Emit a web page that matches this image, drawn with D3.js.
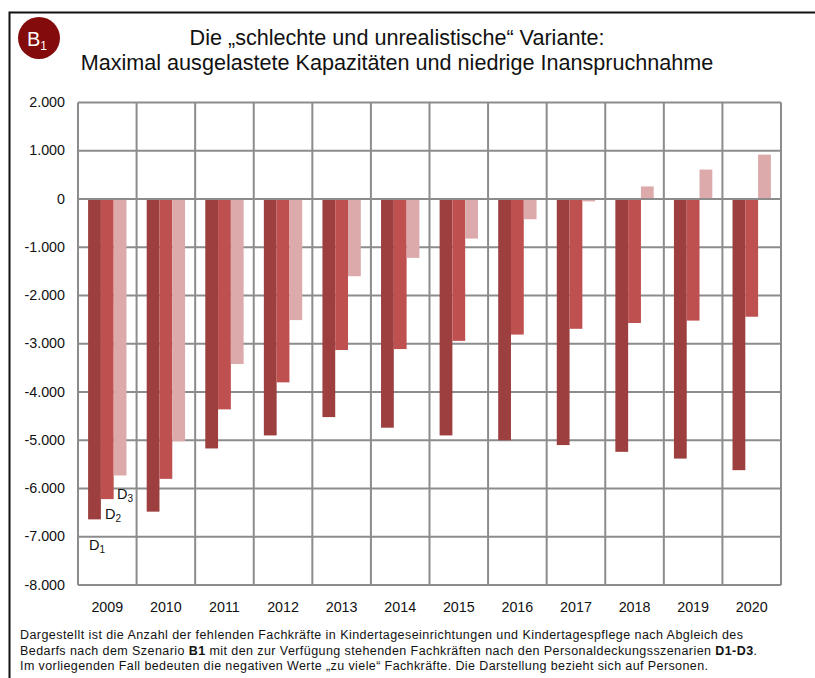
<!DOCTYPE html>
<head>
  <meta charset="utf-8">
  <script src="https://d3js.org/d3.v7.min.js"></script>
  <style>
  body { margin: 0; background: white; }
  #chart { display: block; }
  #chart text { font-family: "Liberation Sans", Arial, sans-serif; fill: #111; }
  .grid line, .grid path { stroke: #8c8c8c; stroke-width: 2; fill: none; }
  .tick-label { font-size: 14.3px; }
  .title { font-size: 21.6px; text-anchor: middle; }
  .note { font-size: 12.5px; }
  </style>
</head>

<body>
  <svg id="chart" width="815" height="678"></svg>
  <script>

    var years = [2009, 2010, 2011, 2012, 2013, 2014, 2015, 2016, 2017, 2018, 2019, 2020];
    // careful: these must not be called d3, that would shadow the library
    var valuesD1 = [-6640, -6480, -5170, -4900, -4520, -4740, -4900, -5000, -5100, -5240, -5380, -5620];
    var valuesD2 = [-6220, -5800, -4360, -3800, -3130, -3110, -2940, -2810, -2690, -2570, -2520, -2440];
    var valuesD3 = [-5730, -5020, -3420, -2510, -1600, -1220, -820, -420, -50, 260, 610, 920];
    var yTicks = [2000, 1000, 0, -1000, -2000, -3000, -4000, -5000, -6000, -7000, -8000];
    var tickLabels = ["2.000", "1.000", "0", "-1.000", "-2.000", "-3.000", "-4.000", "-5.000", "-6.000", "-7.000", "-8.000"];
    var seriesColors = ["#9e3f3f", "#bf5050", "#dcaaaa"];
    var series = [valuesD1, valuesD2, valuesD3];

    var left = 78, right = 781, top_ = 102.5, bottom = 585;

    var svg = d3.select("#chart");

    var x = d3.scaleBand().domain(years).range([left, right]);
    var inner = d3.scaleBand().domain([0, 1, 2]).range([0, x.bandwidth()]).paddingOuter(0.79).paddingInner(0);
    var y = d3.scaleLinear().domain([-8000, 2000]).range([bottom, top_]);

    // outer frame, open to the right and at the bottom
    svg.append("path")
      .attr("d", "M9.5,678V12.5H815")
      .attr("fill", "none")
      .attr("stroke", "#111")
      .attr("stroke-width", 2);

    // badge
    svg.append("circle")
      .attr("cx", 39).attr("cy", 38).attr("r", 21)
      .attr("fill", "#840b0b");
    var badge = svg.append("text")
      .attr("x", 27).attr("y", 46)
      .style("font-size", "20px")
      .style("fill", "white");
    badge.append("tspan").text("B");
    badge.append("tspan").attr("dy", 4).style("font-size", "12px").text("1");

    svg.append("text").attr("class", "title").attr("x", 397).attr("y", 45)
      .text("Die „schlechte und unrealistische“ Variante:");
    svg.append("text").attr("class", "title").attr("x", 397).attr("y", 70)
      .text("Maximal ausgelastete Kapazitäten und niedrige Inanspruchnahme");

    // grid
    var grid = svg.append("g").attr("class", "grid");
    grid.selectAll(".h")
      .data(yTicks)
      .enter().append("line")
      .attr("x1", left).attr("x2", right)
      .attr("y1", function(d) { return y(d); })
      .attr("y2", function(d) { return y(d); });
    grid.selectAll(".v")
      .data(years)
      .enter().append("line")
      .attr("x1", function(d) { return x(d); })
      .attr("x2", function(d) { return x(d); })
      .attr("y1", top_).attr("y2", bottom);
    grid.append("line")
      .attr("x1", right).attr("x2", right)
      .attr("y1", top_).attr("y2", bottom);

    // bars
    series.forEach(function(values, s) {
      svg.append("g").selectAll("rect")
        .data(values)
        .enter().append("rect")
        .attr("x", function(d, i) { return x(years[i]) + inner(s); })
        .attr("width", inner.bandwidth())
        .attr("y", function(d) { return Math.min(y(d), y(0)); })
        .attr("height", function(d) { return Math.abs(y(d) - y(0)); })
        .attr("fill", seriesColors[s]);
    });

    // zero line sits over the bars
    svg.append("line")
      .attr("x1", left).attr("x2", right)
      .attr("y1", y(0)).attr("y2", y(0))
      .attr("stroke", "#8c8c8c").attr("stroke-width", 2);

    svg.append("g").selectAll("text")
      .data(yTicks)
      .enter().append("text")
      .attr("class", "tick-label")
      .attr("x", 65)
      .attr("y", function(d) { return y(d) + 4.5; })
      .attr("text-anchor", "end")
      .text(function(d, i) { return tickLabels[i]; });

    svg.append("g").selectAll("text")
      .data(years)
      .enter().append("text")
      .attr("class", "tick-label")
      .attr("x", function(d) { return x(d) + x.bandwidth() / 2; })
      .attr("y", 612)
      .attr("text-anchor", "middle")
      .text(function(d) { return d; });

    // series labels beside the 2009 bars
    function seriesLabel(px, py, n) {
      var t = svg.append("text").attr("x", px).attr("y", py).style("font-size", "14.5px");
      t.append("tspan").text("D");
      t.append("tspan").attr("dy", 3).style("font-size", "10px").text(n);
    }
    seriesLabel(117, 499, "3");
    seriesLabel(105, 519, "2");
    seriesLabel(89, 550, "1");

    // footnote
    var note = svg.append("g").attr("class", "note");
    note.append("text").attr("x", 20).attr("y", 639).attr("textLength", 723)
      .text("Dargestellt ist die Anzahl der fehlenden Fachkräfte in Kindertageseinrichtungen und Kindertagespflege nach Abgleich des");
    var l2 = note.append("text").attr("x", 20).attr("y", 655).attr("textLength", 737);
    l2.append("tspan").text("Bedarfs nach dem Szenario ");
    l2.append("tspan").style("font-weight", "bold").text("B1");
    l2.append("tspan").text(" mit den zur Verfügung stehenden Fachkräften nach den Personaldeckungsszenarien ");
    l2.append("tspan").style("font-weight", "bold").text("D1-D3");
    l2.append("tspan").text(".");
    note.append("text").attr("x", 20).attr("y", 670).attr("textLength", 688)
      .text("Im vorliegenden Fall bedeuten die negativen Werte „zu viele“ Fachkräfte. Die Darstellung bezieht sich auf Personen.");

  </script>
</body>
